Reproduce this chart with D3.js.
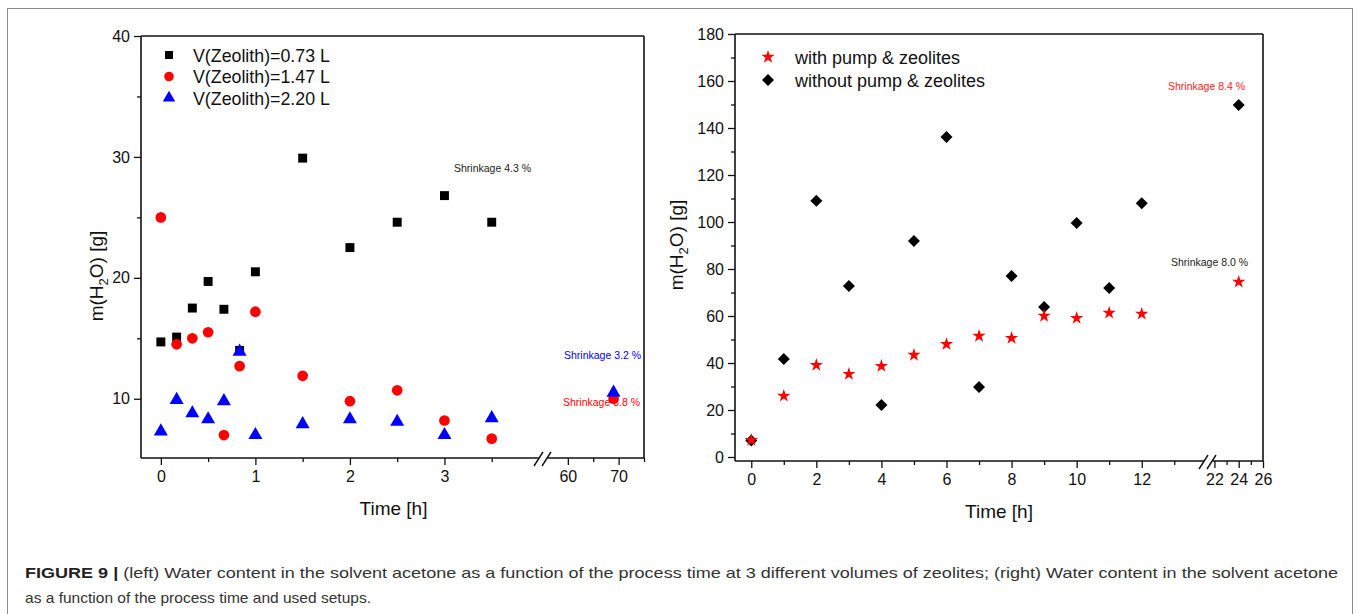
<!DOCTYPE html>
<html>
<head>
<meta charset="utf-8">
<script src="https://cdn.jsdelivr.net/npm/d3@7"></script>
<style>
  body { margin: 0; background: #fff; }
  svg { display: block; font-family: 'Liberation Sans', Arial, sans-serif; }
</style>
</head>
<body>
<div id="chart-area"></div>
<script>
// LEFT CHART DATA
const timesLeft = [0, 0.167, 0.333, 0.5, 0.667, 0.833, 1, 1.5, 2, 2.5, 3, 3.5, 69]
const zeo073 = [14.7, 15.1, 17.5, 19.7, 17.4, 14.0, 20.5, 29.9, 22.5, 24.6, 26.8, 24.6, null]
const zeo147 = [25.0, 14.5, 15.0, 15.5, 7.0, 12.7, 17.2, 11.9, 9.8, 10.7, 8.2, 6.7, 10.0]
const zeo220 = [7.3, 9.9, 8.8, 8.3, 9.8, 13.9, 7.0, 7.9, 8.3, 8.1, 7.0, 8.4, 10.5]
const leftNames = ['V(Zeolith)=0.73 L', 'V(Zeolith)=1.47 L', 'V(Zeolith)=2.20 L']
const leftYTicks = [10, 20, 30, 40]
const leftXTicks1 = [0, 1, 2, 3]
const leftXTicks2 = [60, 70]

// RIGHT CHART DATA
const timesRight = [0, 1, 2, 3, 4, 5, 6, 7, 8, 9, 10, 11, 12, 24]
const withPump = [7.2, 26, 39.1, 35.3, 38.7, 43.4, 48, 51.5, 50.6, 60, 59.1, 61.3, 60.9, 74.5]
const withoutPump = [7, 41.7, 109, 72.8, 22.1, 91.9, 136.2, 29.8, 77, 63.8, 99.6, 71.9, 108, 149.8]
const rightNames = ['with pump & zeolites', 'without pump & zeolites']
const rightYTicks = [0, 20, 40, 60, 80, 100, 120, 140, 160, 180]
const rightXTicks1 = [0, 2, 4, 6, 8, 10, 12]
const rightXTicks2 = [22, 24, 26]

const svg = d3.select('#chart-area').append('svg')
  .attr('width', 1358)
  .attr('height', 614)

// outer frame
svg.append('rect')
  .attr('x', 7.5).attr('y', 8.5)
  .attr('width', 1345).attr('height', 640)
  .attr('fill', 'none').attr('stroke', '#8a8a8a').attr('stroke-width', 1)

// helper: broken x position
function brokenX(s1, s2) {
  return v => (v <= s1.domain()[1] ? s1(v) : s2(v))
}

function drawAxes(opt) {
  const g = svg.append('g')
  const { x1, x2, y, bottom, top, left, right } = opt
  const fmt = d3.format('d')

  // y axis
  g.append('g')
    .attr('transform', `translate(${left}, 0)`)
    .call(d3.axisLeft(y).tickValues(opt.yMinor).tickSize(4).tickFormat(''))
  g.append('g')
    .attr('class', 'y axis')
    .attr('transform', `translate(${left}, 0)`)
    .call(d3.axisLeft(y).tickValues(opt.yTicks).tickFormat(fmt).tickSize(7).tickSizeOuter(0).tickPadding(4))

  // x axis, two segments
  ;[[x1, opt.xTicks1, opt.xMinor1], [x2, opt.xTicks2, opt.xMinor2]].forEach(([sc, maj, min]) => {
    g.append('g')
      .attr('transform', `translate(0, ${bottom})`)
      .call(d3.axisBottom(sc).tickValues(min).tickSize(4).tickFormat('').tickSizeOuter(0))
    g.append('g')
      .attr('class', 'x axis')
      .attr('transform', `translate(0, ${bottom})`)
      .call(d3.axisBottom(sc).tickValues(maj).tickFormat(fmt).tickSize(7).tickSizeOuter(0).tickPadding(6))
  })
  g.selectAll('.domain').remove()
  g.selectAll('.tick text')
    .attr('font-size', '16px')
    .attr('font-family', "'Liberation Sans', Arial, sans-serif")
    .attr('fill', '#111')
  g.selectAll('.tick line').attr('stroke-width', 1.3).attr('stroke', '#111')

  // frame lines
  const lines = [
    [left, top, left, bottom],
    [left, top, right, top],
    [right, top, right, bottom],
    [left, bottom, opt.brk - 4, bottom],
    [opt.brk + 5, bottom, right, bottom]
  ]
  lines.forEach(l => {
    g.append('line')
      .attr('x1', l[0]).attr('y1', l[1]).attr('x2', l[2]).attr('y2', l[3])
      .attr('stroke', '#111').attr('stroke-width', 1.6)
  })
  // break marks
  ;[-4, 4].forEach(dx => {
    g.append('line')
      .attr('x1', opt.brk + dx - 5).attr('y1', bottom + 8)
      .attr('x2', opt.brk + dx + 4).attr('y2', bottom - 6)
      .attr('stroke', '#111').attr('stroke-width', 1.4)
  })
  // axis titles
  g.append('text')
    .attr('x', (left + right) / 2 + opt.titleDx)
    .attr('y', bottom + 57)
    .attr('font-size', '19px')
    .attr('text-anchor', 'middle')
    .attr('fill', '#111')
    .text('Time [h]')
  const yt = g.append('text')
    .attr('transform', `translate(${opt.yTitleX}, ${opt.yTitleY}) rotate(-90)`)
    .attr('font-size', '19px')
    .attr('text-anchor', 'middle')
    .attr('fill', '#111')
  yt.append('tspan').text('m(H')
  yt.append('tspan').attr('font-size', '13px').attr('dy', 5).text('2')
  yt.append('tspan').attr('dy', -5).text('O) [g]')
}

// ---------------- LEFT CHART ----------------
const xL1 = d3.scaleLinear().domain([-0.21, 4.0]).range([141, 539])
const xL2 = d3.scaleLinear().domain([55.5, 75]).range([545, 644])
const xL = brokenX(xL1, xL2)
const yL = d3.scaleLinear().domain([5.1, 40]).range([458, 36])

drawAxes({
  x1: xL1, x2: xL2, y: yL,
  left: 141, right: 644, top: 36, bottom: 458, brk: 543,
  yTicks: leftYTicks, yMinor: [15, 25, 35],
  xTicks1: leftXTicks1, xMinor1: [0.5, 1.5, 2.5, 3.5],
  xTicks2: leftXTicks2, xMinor2: [65, 75],
  titleDx: 1, yTitleX: 103, yTitleY: 276
})

const leftSeries = [
  { values: zeo073, color: '#000', symbol: d3.symbolSquare, size: 80 },
  { values: zeo147, color: '#ff0000', symbol: d3.symbolCircle, size: 90 },
  { values: zeo220, color: '#0000ff', symbol: d3.symbolTriangle, size: 85 }
]
leftSeries.forEach((s, i) => {
  const pts = timesLeft.map((t, j) => ({ t, v: s.values[j] })).filter(d => d.v !== null)
  svg.append('g').selectAll('path')
    .data(pts)
    .enter().append('path')
    .attr('transform', d => `translate(${xL(d.t)}, ${yL(d.v)})`)
    .attr('d', d3.symbol().type(s.symbol).size(s.size))
    .attr('fill', s.color)
  // legend
  svg.append('path')
    .attr('transform', `translate(169, ${55 + i * 21.5})`)
    .attr('d', d3.symbol().type(s.symbol).size(s.size * 0.8))
    .attr('fill', s.color)
  svg.append('text')
    .attr('x', 193).attr('y', 61.5 + i * 21.5)
    .attr('font-size', '17.8px').attr('fill', '#111')
    .text(leftNames[i])
})

const annot = (x, y, txt, color) => svg.append('text')
  .attr('x', x).attr('y', y)
  .attr('font-size', '10.5px').attr('fill', color)
  .text(txt)
annot(454, 172, 'Shrinkage 4.3 %', '#222')
annot(564, 359, 'Shrinkage 3.2 %', '#0000ff')
annot(563, 406, 'Shrinkage 3.8 %', '#ff0000')

// ---------------- RIGHT CHART ----------------
const xR1 = d3.scaleLinear().domain([-0.5, 14]).range([735, 1206.8])
const xR2 = d3.scaleLinear().domain([21.8, 26]).range([1212, 1263])
const xR = brokenX(xR1, xR2)
const yR = d3.scaleLinear().domain([-1.7, 180]).range([461, 34])

drawAxes({
  x1: xR1, x2: xR2, y: yR,
  left: 735, right: 1263, top: 34, bottom: 461, brk: 1208,
  yTicks: rightYTicks, yMinor: [10, 30, 50, 70, 90, 110, 130, 150, 170],
  xTicks1: rightXTicks1, xMinor1: [1, 3, 5, 7, 9, 11, 13],
  xTicks2: rightXTicks2, xMinor2: [23, 25],
  titleDx: 0, yTitleX: 683, yTitleY: 245
})

const rightSeries = [
  { values: withPump, color: '#ff0000', symbol: d3.symbolStar, size: 55, rot: 0 },
  { values: withoutPump, color: '#000', symbol: d3.symbolSquare, size: 72, rot: 45 }
]
// draw diamonds first so stars sit on top where they overlap
;[1, 0].forEach(i => {
  const s = rightSeries[i]
  svg.append('g').selectAll('path')
    .data(timesRight.map((t, j) => ({ t, v: s.values[j] })))
    .enter().append('path')
    .attr('transform', d => `translate(${xR(d.t)}, ${yR(d.v)}) rotate(${s.rot})`)
    .attr('d', d3.symbol().type(s.symbol).size(s.size))
    .attr('fill', s.color)
})
rightSeries.forEach((s, i) => {
  svg.append('path')
    .attr('transform', `translate(768, ${57 + i * 23}) rotate(${s.rot})`)
    .attr('d', d3.symbol().type(s.symbol).size(s.size))
    .attr('fill', s.color)
  svg.append('text')
    .attr('x', 795).attr('y', 63.5 + i * 23)
    .attr('font-size', '18px').attr('fill', '#111')
    .text(rightNames[i])
})
annot(1168, 90, 'Shrinkage 8.4 %', '#ff2020')
annot(1171, 266, 'Shrinkage 8.0 %', '#222')

// ---------------- CAPTION ----------------
const cap1 = svg.append('text')
  .attr('x', 25).attr('y', 578)
  .attr('font-size', '15px').attr('fill', '#333')
  .attr('font-family', "'Liberation Sans Narrow', 'Liberation Sans', Arial, sans-serif")
  .attr('textLength', 1313).attr('lengthAdjust', 'spacingAndGlyphs')
cap1.append('tspan').attr('font-weight', 'bold').attr('fill', '#222').text('FIGURE 9 | ')
cap1.append('tspan').text('(left) Water content in the solvent acetone as a function of the process time at 3 different volumes of zeolites; (right) Water content in the solvent acetone')
svg.append('text')
  .attr('x', 25).attr('y', 603)
  .attr('font-size', '15px').attr('fill', '#333')
  .attr('font-family', "'Liberation Sans Narrow', 'Liberation Sans', Arial, sans-serif")
  .attr('textLength', 346).attr('lengthAdjust', 'spacingAndGlyphs')
  .text('as a function of the process time and used setups.')
</script>
</body>
</html>
